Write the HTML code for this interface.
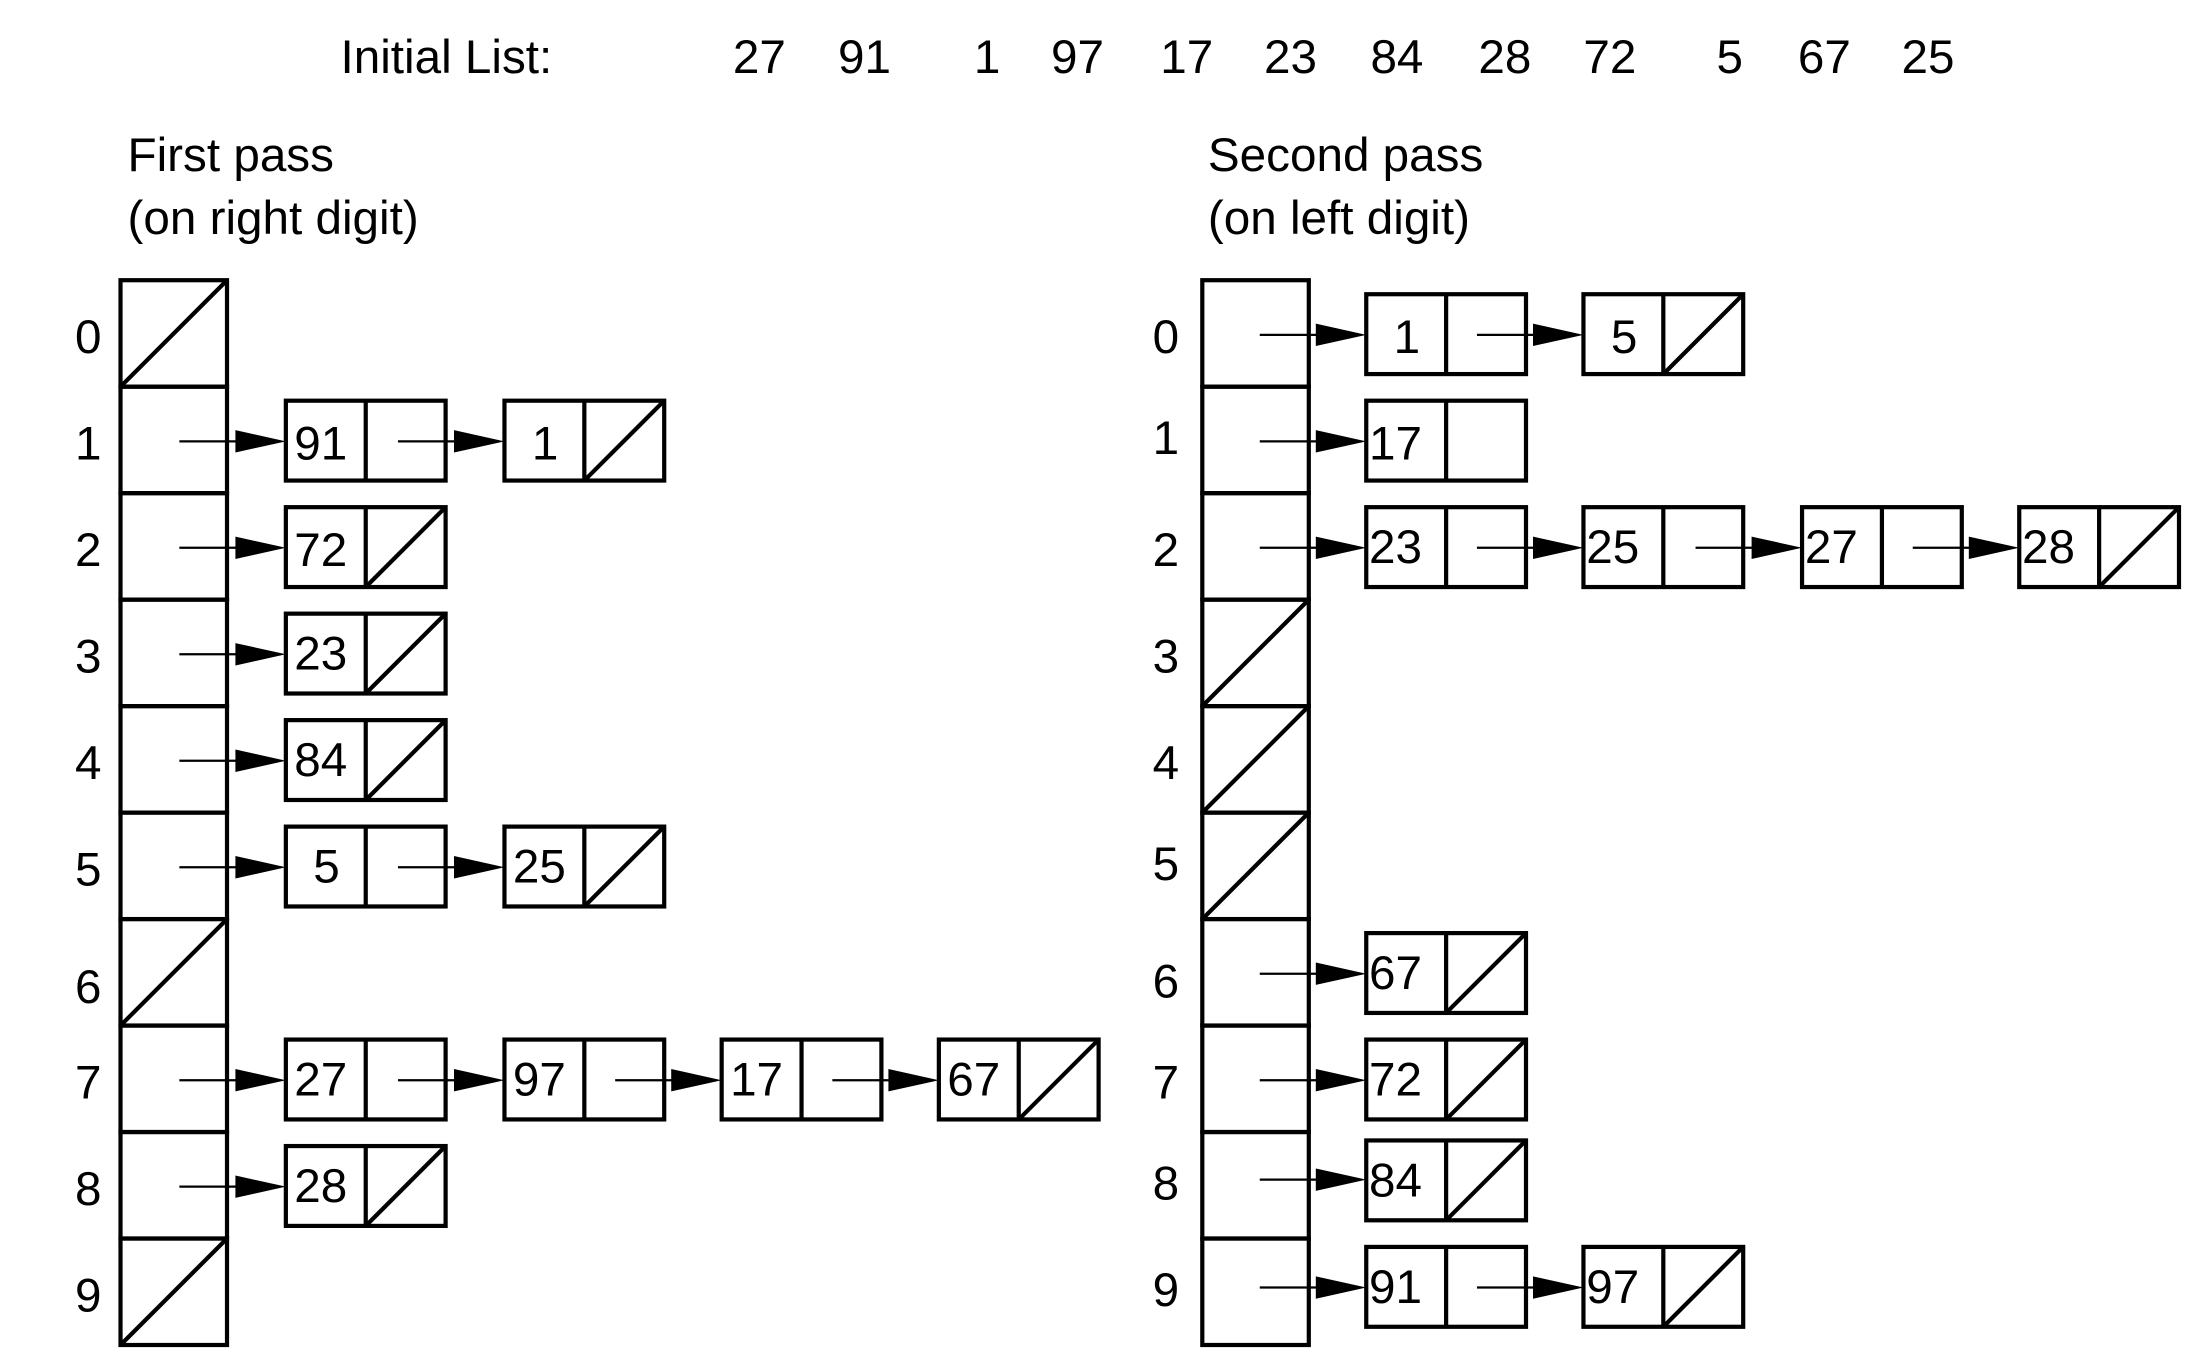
<!DOCTYPE html>
<html><head><meta charset="utf-8"><style>html,body{margin:0;padding:0;background:#fff}svg{display:block}</style></head>
<body>
<svg width="2186" height="1352" viewBox="0 0 1560 965" preserveAspectRatio="none" xmlns="http://www.w3.org/2000/svg" font-family="Liberation Sans, sans-serif" font-size="34">
<defs>
<g id="n" fill="none" stroke="#000" stroke-width="3"><rect x="0" y="0" width="114" height="57"/><line x1="57" y1="0" x2="57" y2="57"/></g>
<line id="s" x1="57" y1="57" x2="114" y2="0" stroke="#000" stroke-width="3"/>
<g id="a"><line x1="0" y1="0" x2="42" y2="0" stroke="#000" stroke-width="1.6"/><polygon points="40,-8 76,0 40,8" fill="#000"/></g>
<g id="c" fill="none" stroke="#000" stroke-width="3"><rect x="0" y="0" width="76" height="76"/></g>
<g id="e" fill="none" stroke="#000" stroke-width="3"><rect x="0" y="0" width="76" height="76"/><line x1="0" y1="76" x2="76" y2="0"/></g>
</defs>
<g fill="#000">
<text x="243" y="52">Initial List:</text>
<text x="523" y="52">27</text><text x="598" y="52">91</text><text x="695" y="52">1</text><text x="750" y="52">97</text><text x="828" y="52">17</text><text x="902" y="52">23</text><text x="978" y="52">84</text><text x="1055" y="52">28</text><text x="1130" y="52">72</text><text x="1225" y="52">5</text><text x="1283" y="52">67</text><text x="1357" y="52">25</text>
<text x="91" y="122">First pass</text><text x="91" y="167">(on right digit)</text>
<text x="862" y="122">Second pass</text><text x="862" y="167">(on left digit)</text>
</g>
<!-- left array -->
<use href="#e" x="86" y="200"/><use href="#c" x="86" y="276"/><use href="#c" x="86" y="352"/><use href="#c" x="86" y="428"/><use href="#c" x="86" y="504"/><use href="#c" x="86" y="580"/><use href="#e" x="86" y="656"/><use href="#c" x="86" y="732"/><use href="#c" x="86" y="808"/><use href="#e" x="86" y="884"/>
<g text-anchor="middle">
<text x="63" y="252">0</text><text x="63" y="328">1</text><text x="63" y="404">2</text><text x="63" y="480">3</text><text x="63" y="556">4</text><text x="63" y="632">5</text><text x="63" y="716">6</text><text x="63" y="784">7</text><text x="63" y="860">8</text><text x="63" y="936">9</text>
</g>
<!-- right array -->
<use href="#c" x="858" y="200"/><use href="#c" x="858" y="276"/><use href="#c" x="858" y="352"/><use href="#e" x="858" y="428"/><use href="#e" x="858" y="504"/><use href="#e" x="858" y="580"/><use href="#c" x="858" y="656"/><use href="#c" x="858" y="732"/><use href="#c" x="858" y="808"/><use href="#c" x="858" y="884"/>
<g text-anchor="middle">
<text x="832" y="252">0</text><text x="832" y="324">1</text><text x="832" y="404">2</text><text x="832" y="480">3</text><text x="832" y="556">4</text><text x="832" y="628">5</text><text x="832" y="712">6</text><text x="832" y="784">7</text><text x="832" y="856">8</text><text x="832" y="932">9</text>
</g>
<!-- left lists -->
<use href="#a" x="128" y="315"/><g transform="translate(204,286)"><use href="#n"/><text x="6" y="42">91</text></g>
<use href="#a" x="284" y="315"/><g transform="translate(360,286)"><use href="#n"/><use href="#s"/><text x="29" y="42" text-anchor="middle">1</text></g>
<use href="#a" x="128" y="391"/><g transform="translate(204,362)"><use href="#n"/><use href="#s"/><text x="6" y="42">72</text></g>
<use href="#a" x="128" y="467"/><g transform="translate(204,438)"><use href="#n"/><use href="#s"/><text x="6" y="40">23</text></g>
<use href="#a" x="128" y="543"/><g transform="translate(204,514)"><use href="#n"/><use href="#s"/><text x="6" y="40">84</text></g>
<use href="#a" x="128" y="619"/><g transform="translate(204,590)"><use href="#n"/><text x="29" y="40" text-anchor="middle">5</text></g>
<use href="#a" x="284" y="619"/><g transform="translate(360,590)"><use href="#n"/><use href="#s"/><text x="6" y="40">25</text></g>
<use href="#a" x="128" y="771"/><g transform="translate(204,742)"><use href="#n"/><text x="6" y="40">27</text></g>
<use href="#a" x="284" y="771"/><g transform="translate(360,742)"><use href="#n"/><text x="6" y="40">97</text></g>
<use href="#a" x="439" y="771"/><g transform="translate(515,742)"><use href="#n"/><text x="6" y="40">17</text></g>
<use href="#a" x="594" y="771"/><g transform="translate(670,742)"><use href="#n"/><use href="#s"/><text x="6" y="40">67</text></g>
<use href="#a" x="128" y="847"/><g transform="translate(204,818)"><use href="#n"/><use href="#s"/><text x="6" y="40">28</text></g>
<!-- right lists -->
<use href="#a" x="899" y="239"/><g transform="translate(975,210)"><use href="#n"/><text x="29" y="42" text-anchor="middle">1</text></g>
<use href="#a" x="1054" y="239"/><g transform="translate(1130,210)"><use href="#n"/><use href="#s"/><text x="29" y="42" text-anchor="middle">5</text></g>
<use href="#a" x="899" y="315"/><g transform="translate(975,286)"><use href="#n"/><text x="2" y="42">17</text></g>
<use href="#a" x="899" y="391"/><g transform="translate(975,362)"><use href="#n"/><text x="2" y="40">23</text></g>
<use href="#a" x="1054" y="391"/><g transform="translate(1130,362)"><use href="#n"/><text x="2" y="40">25</text></g>
<use href="#a" x="1210" y="391"/><g transform="translate(1286,362)"><use href="#n"/><text x="2" y="40">27</text></g>
<use href="#a" x="1365" y="391"/><g transform="translate(1441,362)"><use href="#n"/><use href="#s"/><text x="2" y="40">28</text></g>
<use href="#a" x="899" y="695"/><g transform="translate(975,666)"><use href="#n"/><use href="#s"/><text x="2" y="40">67</text></g>
<use href="#a" x="899" y="771"/><g transform="translate(975,742)"><use href="#n"/><use href="#s"/><text x="2" y="40">72</text></g>
<use href="#a" x="899" y="842"/><g transform="translate(975,814)"><use href="#n"/><use href="#s"/><text x="2" y="40">84</text></g>
<use href="#a" x="899" y="919"/><g transform="translate(975,890)"><use href="#n"/><text x="2" y="40">91</text></g>
<use href="#a" x="1054" y="919"/><g transform="translate(1130,890)"><use href="#n"/><use href="#s"/><text x="2" y="40">97</text></g>
</svg>
</body></html>
